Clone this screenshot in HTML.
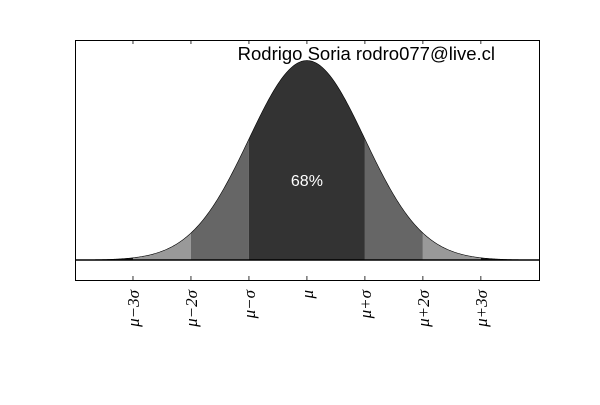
<!DOCTYPE html>
<html><head><meta charset="utf-8"><style>
body{margin:0;background:#fff;width:600px;height:400px;overflow:hidden}
text{font-family:"Liberation Sans",sans-serif}
.tl{font-family:"Liberation Serif",serif;font-style:italic;font-size:17px}
</style></head><body>
<svg id="c" width="600" height="400" xmlns="http://www.w3.org/2000/svg"></svg>
<script>
const tickValues=[-3,-2,-1,0,1,2,3];
const tickLabels=["μ−3σ","μ−2σ","μ−σ","μ","μ+σ","μ+2σ","μ+3σ"];
const bandEdges=[-4,-3,-2,-1,1,2,3,4];
const bandShades=["#1a1a1a","#999999","#666666","#333333","#666666","#999999","#1a1a1a"];
const bandNames=["band-left-tail","band-left-2-3","band-left-1-2","band-center","band-right-1-2","band-right-2-3","band-right-tail"];
const centerLabel="68%";
const xMin=-4,xMax=4.02,yMin=-0.04,yMax=0.44;
const L=75,R=540,T=40,B=280;
const sx=v=>L+(v-xMin)/(xMax-xMin)*(R-L);
const sy=v=>B-(v-yMin)/(yMax-yMin)*(B-T);
const pdf=x=>Math.exp(-x*x/2)/Math.sqrt(2*Math.PI);
const svg=document.getElementById('c');const NS="http://www.w3.org/2000/svg";
function mk(t,a){const e=document.createElementNS(NS,t);for(const k in a)e.setAttribute(k,a[k]);svg.appendChild(e);return e;}
for(let i=0;i<bandShades.length;i++){
 const a=bandEdges[i],b=bandEdges[i+1];let d=`M${sx(a)},${sy(0)}`;
 for(let j=0;j<=60;j++){const x=a+(b-a)*j/60;d+=`L${sx(x)},${sy(pdf(x))}`;}
 d+=`L${sx(b)},${sy(0)}Z`;
 const p=mk('path',{d,fill:bandShades[i],stroke:'none'});
 
 
}
let d='';for(let j=0;j<=400;j++){const x=-4+8.02*j/400;d+=(j?'L':'M')+sx(x)+','+sy(pdf(x));}
const cv=mk('path',{d,fill:'none',stroke:'#000','stroke-width':0.6});


const bl=mk('line',{x1:L,x2:R,y1:sy(0),y2:sy(0),stroke:'#000','stroke-width':1.5});


const fr=mk('rect',{x:L+0.5,y:T+0.5,width:R-L-1,height:B-T,fill:'none',stroke:'#000','stroke-width':1});


tickValues.forEach((v,i)=>{
 const x=sx(v);
 const t=mk('line',{x1:x,x2:x,y1:B,y2:B-4,stroke:'#000','stroke-width':0.8});
 
 
 const t2=mk('line',{x1:x,x2:x,y1:T,y2:T+4,stroke:'#000','stroke-width':0.8});
 
 
 const lb=mk('text',{class:'tl',x:0,y:0,'text-anchor':'end',transform:`translate(${x+6},${B+10}) rotate(-90)`});
 lb.textContent=tickLabels[i];
 
 
});
const cl=mk('text',{x:sx(0),y:186,'text-anchor':'middle',fill:'#fff','font-size':16});
cl.textContent=centerLabel;


const au=mk('text',{x:495,y:60,'text-anchor':'end',fill:'#000','font-size':18.5});
au.textContent="Rodrigo Soria rodro077@live.cl";


</script>
</body></html>
